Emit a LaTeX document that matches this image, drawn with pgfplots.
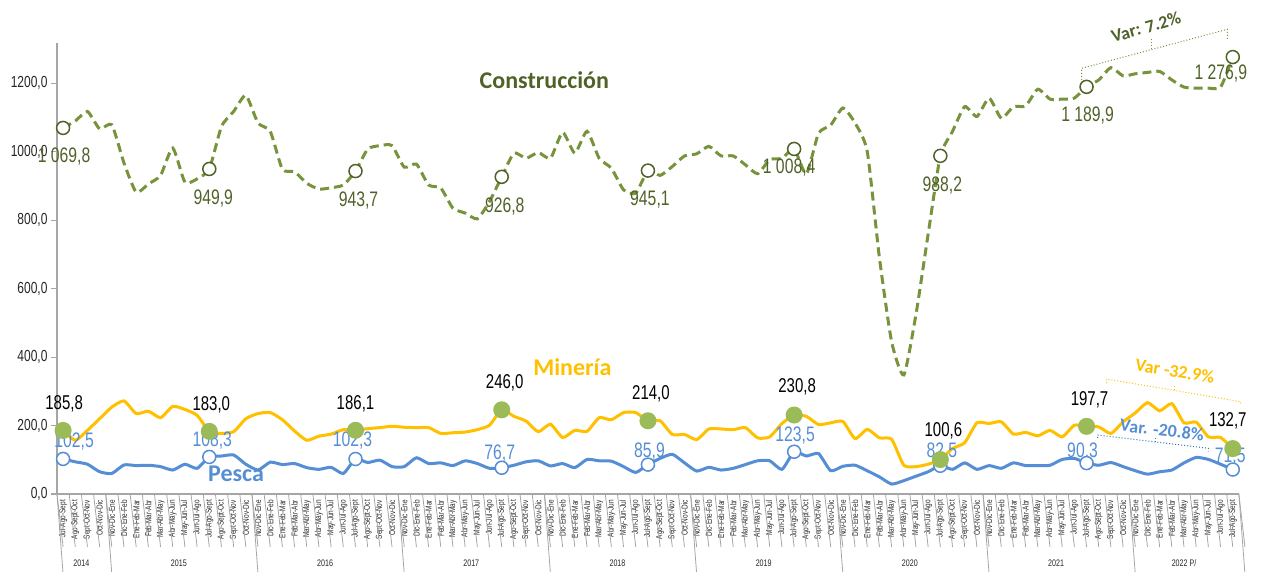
\documentclass[border=0pt]{standalone}
\usepackage{fontspec}
\usepackage{pgfplots}
\usepackage{pgfplotstable}
\pgfplotsset{compat=1.18}
\setmainfont{Liberation Sans}
\newfontfamily\narrow[FakeStretch=0.75]{Liberation Sans}
\newfontfamily\calfont{Carlito}
\definecolor{constr}{HTML}{77933C}
\definecolor{constrdark}{HTML}{4F6228}
\definecolor{mine}{HTML}{FFC000}
\definecolor{pesca}{HTML}{558ED5}
\definecolor{mgreen}{HTML}{9BBB59}
\definecolor{axgray}{HTML}{A6A6A6}
\definecolor{varblue}{HTML}{2E75B6}

\pgfplotstableread{
i c m p
0 1069.8 185.8 102.5
1 1090 157 94
2 1118 186 87
3 1067 220 65
4 1079 254 60
5 967 272 85
6 882 235 83
7 906 242 84
8 931 223 80
9 1011 256 70
10 911 247 87
11 921 230 75
12 949.9 183.0 108.3
13 1074 177 111
14 1118 182 114
15 1165 220 87
16 1084 235 70
17 1060 238 93
18 949 217 86
19 942 184 89
20 908 157 77
21 891 169 72
22 895 175 78
23 903 188 60
24 943.7 186.1 102.3
25 1008 191 92
26 1018 194 99
27 1018 198 80
28 955 195 80
29 964 194 106
30 903 194 89
31 894 177 91
32 835 179 83
33 821 181 97
34 804 188 89
35 855 201 75
36 926.8 246.0 76.7
37 996 227 84
38 981 213 94
39 998 182 97
40 981 204 82
41 1057 165 89
42 996 186 77
43 1060 183 101
44 981 223 97
45 952 217 96
46 889 238 80
47 879 238 63
48 945.1 214.0 85.9
49 931 214 104
50 957 174 116
51 988 174 91
52 994 159 67
53 1016 190 78
54 988 190 70
55 988 188 75
56 962 194 86
57 936 164 97
58 977 167 97
59 981 206 72
60 1008.4 230.8 123.5
61 935 227 111
62 1054 203 118
63 1078 208 68
64 1128 212 81
65 1084 162 84
66 1001 189 68
67 690 164 50
68 445 160 29
69 348 84 39
70 525 80 52
71 760 87 65
72 988.2 100.6 82.5
73 1060 133 72
74 1132 150 91
75 1103 208 72
76 1157 206 83
77 1098 211 75
78 1132 175 91
79 1134 180 83
80 1183 170 83
81 1154 186 84
82 1154 167 101
83 1157 201 104
84 1189.9 197.7 90.3
85 1210 196 84
86 1246 177 92
87 1222 211 80
88 1228 237 68
89 1232 267 58
90 1235 243 65
91 1210 264 70
92 1189 208 91
93 1186 210 107
94 1186 167 101
95 1189 165 87
96 1276.9 132.7 71.5
}\data

\begin{document}
\begin{tikzpicture}
\useasboundingbox (0,0) rectangle (1264pt,572pt);
\begin{axis}[
  at={(57pt,78pt)}, anchor=south west,
  scale only axis, width=1182pt, height=451pt,
  xmin=-0.5, xmax=96.5, ymin=0, ymax=1318,
  axis x line*=bottom, axis y line*=left,
  axis line style={draw=axgray, line width=1.5pt},
  clip=false,
  tick align=outside, major tick length=6pt,
  ytick={0,200,...,1200},
  ytick style={draw=axgray, line width=1.2pt},
  yticklabel style={font=\narrow\fontsize{16}{16}\selectfont, text=black!85,
    /pgf/number format/.cd, fixed, fixed zerofill, precision=1, use comma, 1000 sep={}, assume math mode=true},
  xtick={0,...,96},
  xtick style={draw=none},
  xticklabel style={rotate=90, anchor=east, font=\narrow\fontsize{8.6}{8.6}\selectfont, inner sep=0pt, text=black!85},
  xticklabels={Jul-Ago-Sept,Ago-Sept-Oct,Sept-Oct-Nov,Oct-Nov-Dic,
Nov-Dic-Ene,Dic-Ene-Feb,Ene-Feb-Mar,Feb-Mar-Abr,Mar-Abr-May,Abr-May-Jun,May-Jun-Jul,Jun-Jul-Ago,Jul-Ago-Sept,Ago-Sept-Oct,Sept-Oct-Nov,Oct-Nov-Dic,
Nov-Dic-Ene,Dic-Ene-Feb,Ene-Feb-Mar,Feb-Mar-Abr,Mar-Abr-May,Abr-May-Jun,May-Jun-Jul,Jun-Jul-Ago,Jul-Ago-Sept,Ago-Sept-Oct,Sept-Oct-Nov,Oct-Nov-Dic,
Nov-Dic-Ene,Dic-Ene-Feb,Ene-Feb-Mar,Feb-Mar-Abr,Mar-Abr-May,Abr-May-Jun,May-Jun-Jul,Jun-Jul-Ago,Jul-Ago-Sept,Ago-Sept-Oct,Sept-Oct-Nov,Oct-Nov-Dic,
Nov-Dic-Ene,Dic-Ene-Feb,Ene-Feb-Mar,Feb-Mar-Abr,Mar-Abr-May,Abr-May-Jun,May-Jun-Jul,Jun-Jul-Ago,Jul-Ago-Sept,Ago-Sept-Oct,Sept-Oct-Nov,Oct-Nov-Dic,
Nov-Dic-Ene,Dic-Ene-Feb,Ene-Feb-Mar,Feb-Mar-Abr,Mar-Abr-May,Abr-May-Jun,May-Jun-Jul,Jun-Jul-Ago,Jul-Ago-Sept,Ago-Sept-Oct,Sept-Oct-Nov,Oct-Nov-Dic,
Nov-Dic-Ene,Dic-Ene-Feb,Ene-Feb-Mar,Feb-Mar-Abr,Mar-Abr-May,Abr-May-Jun,May-Jun-Jul,Jun-Jul-Ago,Jul-Ago-Sept,Ago-Sept-Oct,Sept-Oct-Nov,Oct-Nov-Dic,
Nov-Dic-Ene,Dic-Ene-Feb,Ene-Feb-Mar,Feb-Mar-Abr,Mar-Abr-May,Abr-May-Jun,May-Jun-Jul,Jun-Jul-Ago,Jul-Ago-Sept,Ago-Sept-Oct,Sept-Oct-Nov,Oct-Nov-Dic,
Nov-Dic-Ene,Dic-Ene-Feb,Ene-Feb-Mar,Feb-Mar-Abr,Mar-Abr-May,Abr-May-Jun,May-Jun-Jul,Jun-Jul-Ago,Jul-Ago-Sept,Ago-Sept-Oct,Sept-Oct-Nov,Oct-Nov-Dic,
Nov-Dic-Ene,Dic-Ene-Feb,Ene-Feb-Mar,Feb-Mar-Abr,Mar-Abr-May,Abr-May-Jun,May-Jun-Jul,Jun-Jul-Ago,Jul-Ago-Sept},
]
% separators
\pgfplotsinvokeforeach{-0.5,0.5,...,96.5}{\draw[axgray, line width=0.8pt] (axis cs:#1,0) -- ++(0,-53pt);}
\pgfplotsinvokeforeach{-0.5,3.5,15.5,27.5,39.5,51.5,63.5,75.5,87.5,96.5}{\draw[axgray, line width=0.8pt] (axis cs:#1,0) -- ++(0,-80pt);}
\begin{scope}[every node/.style={font=\narrow\fontsize{9.5}{9.5}\selectfont, text=black!85, inner sep=0pt, yshift=-69pt}]
\node at (axis cs:1.5,0) {2014};
\node at (axis cs:9.5,0) {2015};
\node at (axis cs:21.5,0) {2016};
\node at (axis cs:33.5,0) {2017};
\node at (axis cs:45.5,0) {2018};
\node at (axis cs:57.5,0) {2019};
\node at (axis cs:69.5,0) {2020};
\node at (axis cs:81.5,0) {2021};
\node at (axis cs:92,0) {2022 P/};
\end{scope}

\addplot[constr, line width=3pt, dash pattern=on 9pt off 5pt, smooth, tension=0.35,
  mark=*, mark repeat=12, mark size=6.5pt,
  mark options={solid, fill=white, draw=constrdark, line width=1.5pt}]
  table[x=i, y=c] {\data};
\addplot[pesca, line width=3pt, smooth, tension=0.35,
  mark=*, mark repeat=12, mark size=6.5pt,
  mark options={fill=white, draw=pesca, line width=1.5pt}]
  table[x=i, y=p] {\data};
\addplot[mine, line width=3pt, smooth, tension=0.35,
  mark=*, mark repeat=12, mark size=7pt,
  mark options={fill=mgreen, draw=mgreen}]
  table[x=i, y=m] {\data};

% Construccion labels
\begin{scope}[every node/.style={text=constrdark, font=\narrow\fontsize{21}{21}\selectfont, inner sep=0pt}]
\node at (axis cs:0,1069.8) [xshift=1pt, yshift=-29pt] {1 069,8};
\node at (axis cs:12,949.9) [xshift=4pt, yshift=-30pt] {949,9};
\node at (axis cs:24,943.7) [xshift=3pt, yshift=-29.5pt] {943,7};
\node at (axis cs:36,926.8) [xshift=3pt, yshift=-30pt] {926,8};
\node at (axis cs:48,945.1) [xshift=2pt, yshift=-29pt] {945,1};
\node at (axis cs:60,1008.4) [xshift=-5pt, yshift=-19pt] {1 008,4};
\node at (axis cs:72,988.2) [xshift=2pt, yshift=-30pt] {988,2};
\node at (axis cs:84,1189.9) [xshift=1pt, yshift=-29pt] {1 189,9};
\node at (axis cs:96,1276.9) [xshift=-12pt, yshift=-16pt] {1 276,9};
\end{scope}
% Mineria labels
\begin{scope}[every node/.style={text=black, font=\narrow\fontsize{20}{20}\selectfont, inner sep=0pt}]
\node at (axis cs:0,185.8) [xshift=1pt, yshift=27pt] {185,8};
\node at (axis cs:12,183.0) [xshift=2pt, yshift=27pt] {183,0};
\node at (axis cs:24,186.1) [xshift=0pt, yshift=27pt] {186,1};
\node at (axis cs:36,246.0) [xshift=3pt, yshift=27pt] {246,0};
\node at (axis cs:48,214.0) [xshift=3pt, yshift=27pt] {214,0};
\node at (axis cs:60,230.8) [xshift=3pt, yshift=28pt] {230,8};
\node at (axis cs:72,100.6) [xshift=3pt, yshift=29pt] {100,6};
\node at (axis cs:84,197.7) [xshift=3pt, yshift=27pt] {197,7};
\node at (axis cs:96,132.7) [xshift=-5pt, yshift=28pt] {132,7};
\end{scope}
% Pesca labels
\begin{scope}[every node/.style={text=pesca, font=\narrow\fontsize{21}{21}\selectfont, inner sep=0pt}]
\node at (axis cs:0,102.5) [xshift=11pt, yshift=17.5pt] {102,5};
\node at (axis cs:12,108.3) [xshift=3pt, yshift=16pt] {108,3};
\node at (axis cs:24,102.3) [xshift=-3pt, yshift=18pt] {102,3};
\node at (axis cs:36,76.7) [xshift=-2pt, yshift=14pt] {76,7};
\node at (axis cs:48,85.9) [xshift=1.5pt, yshift=12.6pt] {85,9};
\node at (axis cs:60,123.5) [xshift=1pt, yshift=16.7pt] {123,5};
\node at (axis cs:72,82.5) [xshift=1.5pt, yshift=14pt] {82,5};
\node at (axis cs:84,90.3) [xshift=-4pt, yshift=11.5pt] {90,3};
\node at (axis cs:96,71.5) [xshift=-2.5pt, yshift=13pt] {71,5};
\end{scope}
% series names
\node[text=constrdark, font=\calfont\bfseries\fontsize{24}{24}\selectfont] at (axis cs:39.5,1210) {Construcción};
\node[text=mine, font=\calfont\bfseries\fontsize{24}{24}\selectfont] at (axis cs:41.8,371) {Minería};
\node[text=pesca, font=\calfont\bfseries\fontsize{24}{24}\selectfont] at (axis cs:14.2,59) {Pesca};
\end{axis}

% variation brackets
\draw[constr, line width=1pt, dotted] (1081.7pt,492pt) -- (1081.7pt,503.7pt) -- (1227.3pt,542.7pt) -- (1227.3pt,532pt);
\draw[constr, line width=1pt, dotted] (1151.7pt,522.5pt) -- (1151.7pt,534pt);
\node[text=constrdark, font=\calfont\bfseries\fontsize{18}{18}\selectfont, rotate=16] at (1146pt,545pt) {Var: 7.2\%};

\draw[mine, line width=1pt, dotted] (1106.7pt,188.7pt) -- (1106.7pt,193pt) -- (1240.7pt,170.3pt) -- (1240.7pt,167pt);
\draw[mine, line width=1pt, dotted] (1174pt,181.6pt) -- (1174pt,186.7pt);
\node[text=mine, font=\calfont\bfseries\fontsize{18}{18}\selectfont, rotate=-9] at (1175pt,201pt) {Var -32.9\%};

\draw[varblue, line width=1pt, dotted] (1097.7pt,134pt) -- (1097.7pt,137pt) -- (1208.3pt,123.7pt) -- (1208.3pt,120.5pt);
\draw[varblue, line width=1pt, dotted] (1155pt,130.1pt) -- (1155pt,133.5pt);
\node[text=pesca, font=\calfont\bfseries\fontsize{18}{18}\selectfont, rotate=-7] at (1162pt,142pt) {Var. -20.8\%};
\end{tikzpicture}
\end{document}
